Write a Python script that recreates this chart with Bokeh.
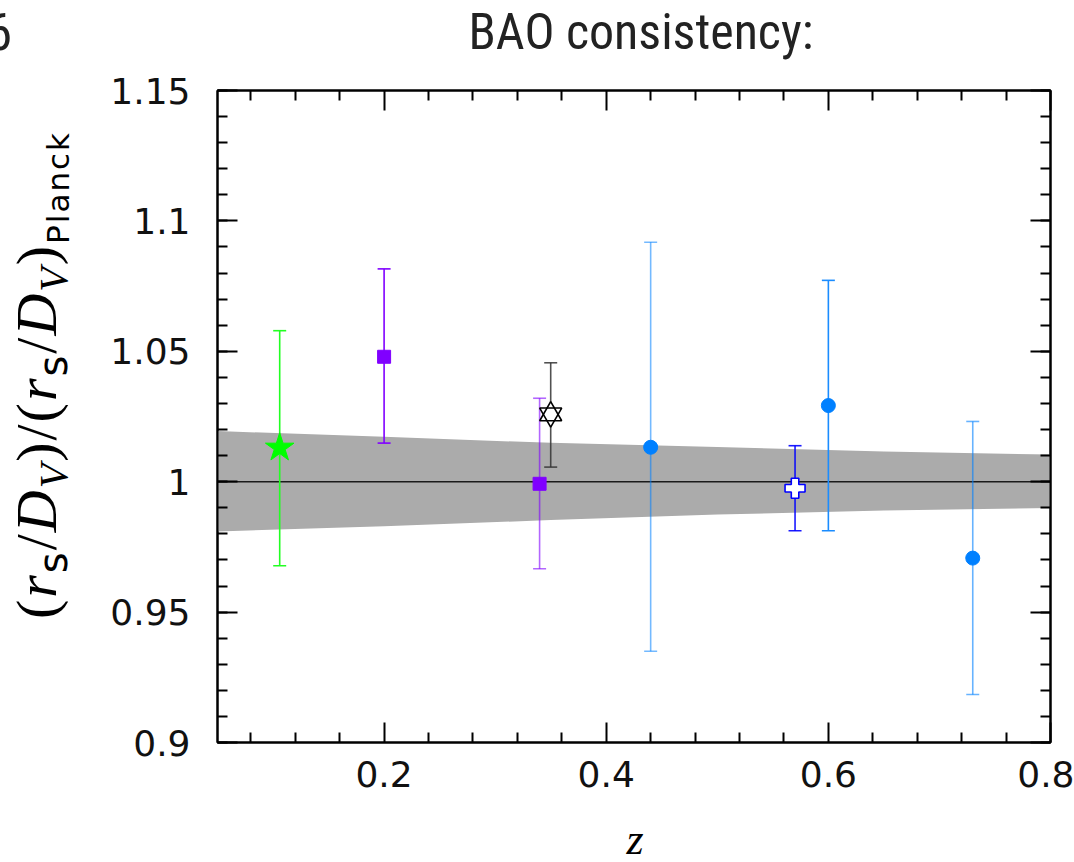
from bokeh.plotting import figure
from bokeh.models import LinearAxis, FixedTicker, Range1d, Div
from bokeh.layouts import row, column
from bokeh.embed import file_html
from bokeh.resources import INLINE

# ---------------- data ----------------
x_limits = [0.05, 0.8]
y_limits = [0.9, 1.15]
x_major_ticks = [0.2, 0.4, 0.6, 0.8]
x_tick_labels = ["0.2", "0.4", "0.6", "0.8"]
x_minor_ticks = [0.08, 0.12, 0.16, 0.24, 0.28, 0.32, 0.36, 0.44, 0.48, 0.52,
                 0.56, 0.64, 0.68, 0.72, 0.76]
y_major_ticks = [0.9, 0.95, 1.0, 1.05, 1.1, 1.15]
y_tick_labels = ["0.9", "0.95", "1", "1.05", "1.1", "1.15"]
y_minor_ticks = [round(0.9 + 0.01 * i, 2) for i in range(26)]

ref_ratio = 1.0

# Planck prediction band
band_z = [0.05, 0.2, 0.35, 0.5, 0.65, 0.8]
band_hi = [1.0194, 1.0172, 1.0149, 1.0133, 1.0116, 1.0104]
band_lo = [0.9809, 0.9829, 0.9853, 0.9874, 0.9890, 0.9899]

# 6dFGS
sixdf_z = [0.106]
sixdf_val = [1.013]
sixdf_lo = [0.9678]
sixdf_hi = [1.0579]

# SDSS (squares)
sdss_z = [0.20, 0.34]
sdss_val = [1.0479, 0.9992]
sdss_lo = [1.0148, 0.9666]
sdss_hi = [1.0816, 1.0320]

# hexagram point
mgs_z = [0.35]
mgs_val = [1.0258]
mgs_lo = [1.0056]
mgs_hi = [1.0456]

# BOSS (cross)
boss_z = [0.57]
boss_val = [0.9975]
boss_lo = [0.9812]
boss_hi = [1.0138]

# WiggleZ (circles)
wz_z = [0.44, 0.60, 0.73]
wz_val = [1.0132, 1.0292, 0.9707]
wz_lo = [0.9350, 0.9812, 0.9184]
wz_hi = [1.0918, 1.0772, 1.0231]

title_text = "BAO consistency:"
x_label_text = "z"
corner_text = "6"

# ---------------- layout sizes ----------------
PAGE_W, PAGE_H = 1074, 862
TOP_H = 60          # title strip
LEFT_W = 100        # y-label strip
FRAME_LEFT, FRAME_TOP = 217, 90
FW, FH = 833, 652
FIG_TOP = FRAME_TOP - TOP_H
FIG_BOTTOM = 64
FIG_H = FIG_TOP + FH + FIG_BOTTOM
BOT_H = PAGE_H - TOP_H - FIG_H

p = figure(frame_width=FW, frame_height=FH,
           x_range=Range1d(*x_limits), y_range=Range1d(*y_limits),
           output_backend="svg", toolbar_location=None,
           min_border_left=FRAME_LEFT - LEFT_W, min_border_right=PAGE_W - FRAME_LEFT - FW,
           min_border_top=FIG_TOP, min_border_bottom=FIG_BOTTOM,
           background_fill_color="white", border_fill_color="white")
p.grid.visible = False
p.outline_line_color = "black"
p.outline_line_width = 2

xt = FixedTicker(ticks=x_major_ticks, minor_ticks=x_minor_ticks)
yt = FixedTicker(ticks=y_major_ticks, minor_ticks=y_minor_ticks)

TICK_FONT = "DejaVu Sans"


def style_axis(ax):
    ax.axis_line_color = "black"
    ax.axis_line_width = 2
    ax.major_tick_in = 20
    ax.major_tick_out = 0
    ax.minor_tick_in = 10
    ax.minor_tick_out = 0
    ax.major_tick_line_width = 2
    ax.minor_tick_line_width = 2
    ax.major_tick_line_color = "black"
    ax.minor_tick_line_color = "black"
    ax.major_label_text_font = TICK_FONT
    ax.major_label_text_font_size = "36px"
    ax.major_label_text_color = "#111111"


p.xaxis.ticker = xt
p.yaxis.ticker = yt
style_axis(p.xaxis[0])
style_axis(p.yaxis[0])
p.xaxis.major_label_overrides = dict(zip(x_major_ticks, x_tick_labels))
p.yaxis.major_label_overrides = dict(zip(y_major_ticks, y_tick_labels))
p.xaxis.major_label_standoff = 18
p.yaxis.major_label_standoff = 27

top_ax = LinearAxis(ticker=xt)
right_ax = LinearAxis(ticker=yt)
for ax, ticks in ((top_ax, x_major_ticks), (right_ax, y_major_ticks)):
    style_axis(ax)
    ax.major_label_overrides = {t: "" for t in ticks}
    ax.major_label_standoff = 0
p.add_layout(top_ax, "above")
p.add_layout(right_ax, "right")

# band and reference line
p.varea(x=band_z, y1=band_lo, y2=band_hi, fill_color="#ababab")
p.line(x=x_limits, y=[ref_ratio, ref_ratio], line_color="#1a1a1a", line_width=1.5)


def errbars(z, lo, hi, color, alpha=1.0, cap=13):
    p.segment(x0=z, y0=lo, x1=z, y1=hi, line_color=color, line_width=1.6, line_alpha=alpha)
    p.scatter(x=z, y=lo, marker="dash", size=cap, line_color=color, line_width=1.6, line_alpha=alpha)
    p.scatter(x=z, y=hi, marker="dash", size=cap, line_color=color, line_width=1.6, line_alpha=alpha)


errbars(sixdf_z, sixdf_lo, sixdf_hi, "#22ff22")
errbars(sdss_z[:1], sdss_lo[:1], sdss_hi[:1], "#8000ff")
errbars(sdss_z[1:], sdss_lo[1:], sdss_hi[1:], "#8000ff", alpha=0.6)
errbars(mgs_z, mgs_lo, mgs_hi, "#333333", alpha=0.85)
errbars(boss_z, boss_lo, boss_hi, "#0000ff", alpha=0.9)
errbars(wz_z[1:2], wz_lo[1:2], wz_hi[1:2], "#1a8cff")
errbars(wz_z[0:1], wz_lo[0:1], wz_hi[0:1], "#0080ff", alpha=0.55)
errbars(wz_z[2:3], wz_lo[2:3], wz_hi[2:3], "#0080ff", alpha=0.6)

p.scatter(x=sixdf_z, y=sixdf_val, marker="star", size=30, fill_color="#00ff00",
          line_color="#00ff00")
p.scatter(x=sdss_z, y=sdss_val, marker="square", size=13, fill_color="#8000ff",
          line_color="#8000ff")
for mk in ("triangle", "inverted_triangle"):
    p.scatter(x=mgs_z, y=mgs_val, marker=mk, size=22, fill_color="white", line_color=None)
for mk in ("triangle", "inverted_triangle"):
    p.scatter(x=mgs_z, y=mgs_val, marker=mk, size=22, fill_color=None,
              line_color="black", line_width=1.6)
p.scatter(x=boss_z, y=boss_val, marker="plus", size=20, fill_color="white",
          line_color="#0000ff", line_width=1.6)
p.scatter(x=wz_z, y=wz_val, marker="circle", size=14, fill_color="#0080ff",
          line_color="#0080ff")

# ---------------- HTML text strips ----------------
NARROW = "'Liberation Sans Narrow','Roboto Condensed','Liberation Sans'"
BASE_STYLES = {"position": "relative", "overflow": "visible", "margin": "0",
               "background-color": "white"}

# title strip (page y 0..TOP_H)
top_html = (
    '<div style="position:absolute;left:641px;top:7px;transform:translateX(-50%);'
    'white-space:nowrap;font-family:' + NARROW + ';font-size:50px;line-height:51px;'
    'color:#222222;">' + title_text + '</div>'
    '<div style="position:absolute;left:-13px;top:7px;white-space:nowrap;'
    'font-family:' + NARROW + ';font-size:51px;line-height:51px;color:#222222;">'
    + corner_text + '</div>'
)
top_div = Div(text=top_html, width=PAGE_W, height=TOP_H, styles=BASE_STYLES)

# y-axis label strip
SUB_S = "font-family:'DejaVu Sans';font-size:40px;vertical-align:-11px;line-height:0;"
SUB_V = "font-size:40px;vertical-align:-11px;line-height:0;"
SUB_P = "font-family:'DejaVu Sans';font-size:31px;vertical-align:-13px;line-height:0;"
frac = ('(<i>r</i><span style="' + SUB_S + '">s</span>/<i>D</i>'
        '<span style="' + SUB_V + '"><i>V</i></span>)')
ylabel_html = frac + "/" + frac + '<span style="' + SUB_P + '">Planck</span>'
left_html = (
    '<div style="position:absolute;left:37px;top:' + str(375 - TOP_H) + 'px;'
    'transform:translate(-50%,-50%) rotate(-90deg);white-space:nowrap;'
    "font-family:'Liberation Serif';font-size:58px;line-height:58px;"
    'letter-spacing:2px;color:black;">' + ylabel_html + '</div>'
)
left_div = Div(text=left_html, width=LEFT_W, height=FIG_H, styles=BASE_STYLES)

# x-axis label strip (baseline near page y 855)
bot_html = (
    '<div style="position:absolute;left:635px;top:' + str(818 - (TOP_H + FIG_H)) + 'px;'
    'transform:translateX(-50%);white-space:nowrap;'
    "font-family:'Liberation Serif';font-style:italic;"
    'font-size:44px;line-height:44px;color:black;">' + x_label_text + '</div>'
)
bot_div = Div(text=bot_html, width=PAGE_W, height=BOT_H, styles=BASE_STYLES)

middle = row(left_div, p)
middle.spacing = 0
layout = column(top_div, middle, bot_div)
layout.spacing = 0

open("out.html", "w").write(file_html(layout, INLINE))
